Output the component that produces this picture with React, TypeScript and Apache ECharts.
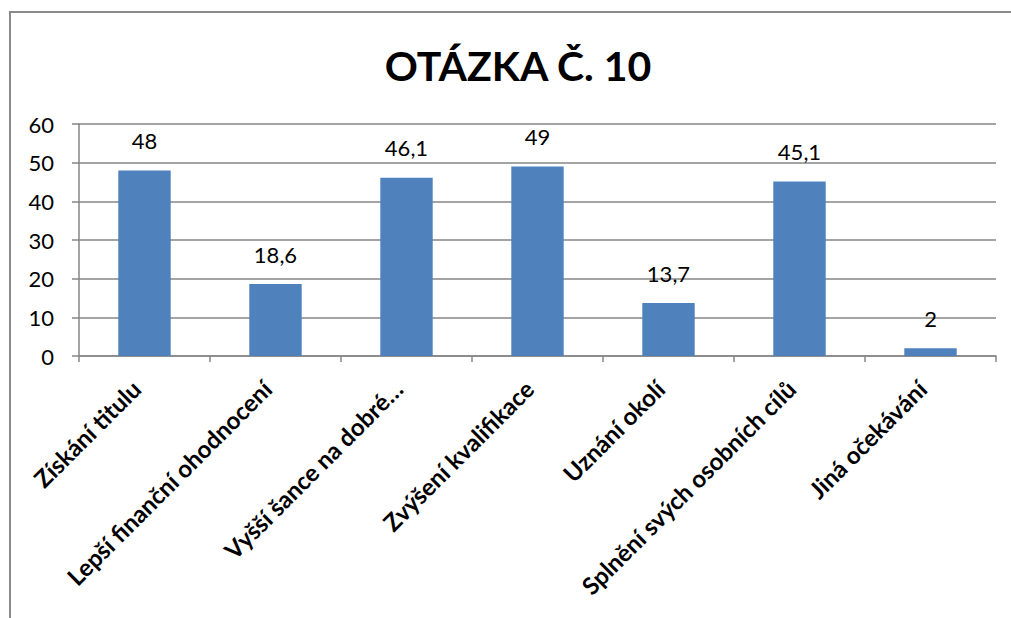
import React, { useEffect, useRef } from "react";
import * as echarts from "echarts";

const categories = [
  "Získání titulu",
  "Lepší finanční ohodnocení",
  "Vyšší šance na dobré…",
  "Zvýšení kvalifikace",
  "Uznání okolí",
  "Splnění svých osobních cílů",
  "Jiná očekávání",
];
const values = [48, 18.6, 46.1, 49, 13.7, 45.1, 2];
const titleText = "OTÁZKA Č. 10";

export default function App() {
  const ref = useRef<HTMLDivElement>(null);
  useEffect(() => {
    document.body.style.margin = "0";
    if (!ref.current) return;
    const chart = echarts.init(ref.current, undefined, { renderer: "svg" });
    const font = "Lato, 'Open Sans', sans-serif";
    chart.setOption({
      animation: false,
      backgroundColor: "#ffffff",
      title: {
        text: titleText,
        left: 513,
        top: 40,
        textAlign: "center",
        textStyle: { fontFamily: font, fontSize: 41, fontWeight: "bold", color: "#000" },
      },
      graphic: [
        {
          type: "rect",
          shape: { x: 10, y: 12, width: 1100, height: 700 },
          style: { fill: "none", stroke: "#8a8a8a", lineWidth: 2 },
          silent: true,
        },
      ],
      grid: { left: 79, right: 15, top: 124, bottom: 262 },
      xAxis: {
        type: "category",
        data: categories,
        axisLine: { lineStyle: { color: "#868686", width: 1.5 } },
        axisTick: { show: true, length: 6, lineStyle: { color: "#868686", width: 1.5 } },
        axisLabel: {
          rotate: 45,
          interval: 0,
          margin: 20,
          padding: [0, 12, 0, 0],
          fontFamily: font,
          fontSize: 24,
          fontWeight: "bold",
          color: "#000",
        },
      },
      yAxis: {
        type: "value",
        min: 0,
        max: 60,
        interval: 10,
        axisLine: { show: true, lineStyle: { color: "#868686", width: 1.5 } },
        axisTick: { show: true, length: 7, lineStyle: { color: "#868686", width: 1.5 } },
        splitLine: { lineStyle: { color: "#868686", width: 1.5 } },
        axisLabel: { margin: 25, fontFamily: font, fontSize: 22, color: "#000" },
      },
      series: [
        {
          type: "bar",
          data: values,
          barWidth: "40%",
          itemStyle: { color: "#4F81BD" },
          label: {
            show: true,
            position: "top",
            distance: 19,
            fontFamily: font,
            fontSize: 22,
            color: "#000",
            formatter: (p: any) => String(p.value).replace(".", ","),
          },
        },
      ],
    });
    return () => chart.dispose();
  }, []);
  return <div ref={ref} style={{ width: 1011, height: 618 }} />;
}
